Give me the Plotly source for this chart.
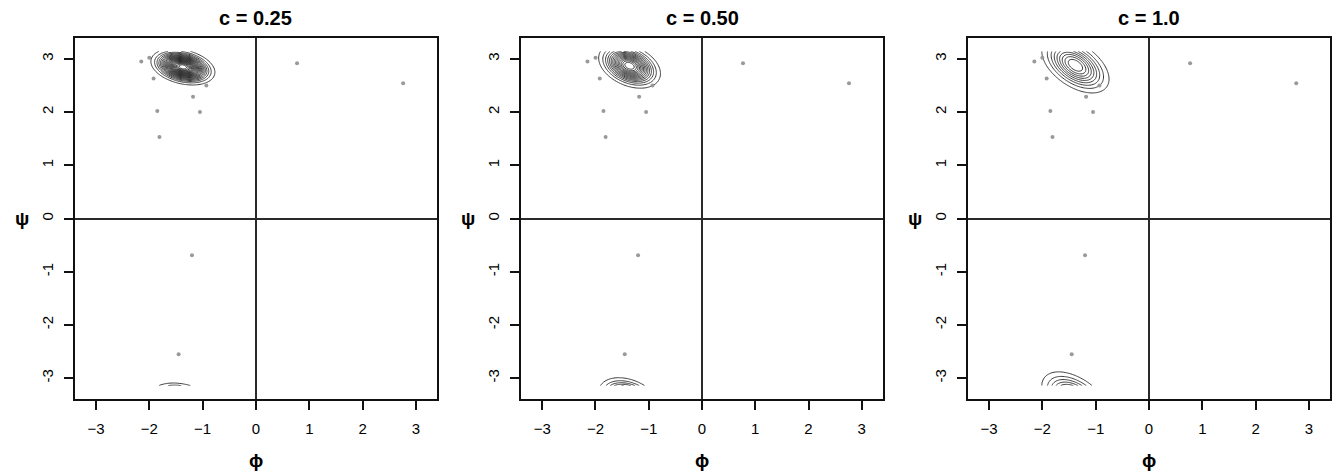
import numpy as np
import plotly.graph_objects as go

# ---------------- data ----------------
panel_titles = ["c = 0.25", "c = 0.50", "c = 1.0"]

# observed (phi, psi) points, grey dots (same in every panel)
pts_phi = [-2.15, -2.00, -1.92, -0.93, -1.18, -1.85, -1.05, -1.81, 0.77, 2.76, -1.20, -1.45]
pts_psi = [2.95, 3.02, 2.63, 2.50, 2.29, 2.02, 2.00, 1.53, 2.92, 2.54, -0.69, -2.55]

# density-estimate shape read per panel (centre, outer-contour half extents, tilt, level count)
dens_phi_centre = [-1.37, -1.36, -1.38]
dens_psi_centre = [2.85, 2.87, 2.88]
outer_half_phi = [0.60, 0.58, 0.63]
outer_half_psi = [0.34, 0.42, 0.52]
dens_corr = [-0.3, -0.35, -0.5]
n_levels = [24, 16, 10]

tick_vals = [-3, -2, -1, 0, 1, 2, 3]
x_tick_text = ["\u22123", "\u22122", "\u22121", "0", "1", "2", "3"]
y_tick_text = ["-3", "-2", "-1", "0", "1", "2", "3"]

# ---------------- figure ----------------
W, H = 1342, 476
ML, MR, MT, MB = 75, 10, 38, 77
PW, PH = W - ML - MR, H - MT - MB
panel_px = [(75, 437.5), (522, 884), (969.5, 1332)]
domains = [[(a - ML) / PW, (b - ML) / PW] for a, b in panel_px]
lim = np.pi * 1.08

grid = np.linspace(-np.pi, np.pi, 301)
GX, GY = np.meshgrid(grid, grid)

fig = go.Figure()
FONT = "Liberation Sans, Arial, Helvetica, sans-serif"
ann = []

for i in range(3):
    xa = "x" if i == 0 else f"x{i+1}"
    ya = "y" if i == 0 else f"y{i+1}"
    N = n_levels[i]
    r_out = np.sqrt(2 * np.log(N))
    sx = outer_half_phi[i] / r_out
    sy = outer_half_psi[i] / r_out
    rho = dens_corr[i]
    Z = np.zeros_like(GX)
    for kx in (-1, 0, 1):
        for ky in (-1, 0, 1):
            dx = (GX - dens_phi_centre[i] + 2 * np.pi * kx) / sx
            dy = (GY - dens_psi_centre[i] + 2 * np.pi * ky) / sy
            q = (dx * dx - 2 * rho * dx * dy + dy * dy) / (1 - rho * rho)
            Z += np.exp(-0.5 * q)
    zmax = 1.0
    step = zmax / N
    fig.add_trace(go.Contour(
        x=grid, y=grid, z=Z,
        contours=dict(coloring="lines", start=step, end=zmax - step * 0.5, size=step, showlabels=False),
        line=dict(width=0.9),
        colorscale=[[0, "#262626"], [1, "#262626"]],
        showscale=False, hoverinfo="skip",
        xaxis=xa, yaxis=ya,
    ))
    fig.add_trace(go.Scatter(
        x=pts_phi, y=pts_psi, mode="markers",
        marker=dict(size=4, color="#999999"),
        xaxis=xa, yaxis=ya, showlegend=False, hoverinfo="skip",
    ))

    axis_common = dict(
        range=[-lim, lim], showgrid=False, zeroline=True, zerolinecolor="#2a2a2a", zerolinewidth=1.7,
        showline=True, mirror=True, linecolor="#111", linewidth=1.8,
        ticks="outside", ticklen=9, tickwidth=1.6, tickcolor="#111",
        tickvals=tick_vals, tickfont=dict(family=FONT, size=15, color="#000"),
        fixedrange=True,
    )
    xkey = "xaxis" if i == 0 else f"xaxis{i+1}"
    ykey = "yaxis" if i == 0 else f"yaxis{i+1}"
    fig.update_layout({
        xkey: dict(axis_common, domain=domains[i], anchor=ya, ticktext=x_tick_text, ticklabelstandoff=6),
        ykey: dict(axis_common, domain=[0, 1], anchor=xa, ticktext=y_tick_text, tickangle=-90, ticklabelstandoff=5),
    })

    cx = (domains[i][0] + domains[i][1]) / 2
    ann.append(dict(text="<b>" + panel_titles[i] + "</b>", x=cx, y=1 + 19.5 / PH, xref="paper", yref="paper",
                    xanchor="center", yanchor="middle", showarrow=False,
                    font=dict(family=FONT, size=20, color="#000")))
    ann.append(dict(text="<b>\u03d5</b>", x=cx, y=-61 / PH, xref="paper", yref="paper",
                    xanchor="center", yanchor="middle", showarrow=False,
                    font=dict(family=FONT, size=19, color="#000")))
    ann.append(dict(text="<b>\u03c8</b>", x=domains[i][0] - 53 / PW, y=0.5, xref="paper", yref="paper",
                    xanchor="center", yanchor="middle", showarrow=False,
                    font=dict(family=FONT, size=19, color="#000")))

fig.update_layout(
    width=W, height=H,
    margin=dict(l=ML, r=MR, t=MT, b=MB),
    paper_bgcolor="white", plot_bgcolor="white",
    showlegend=False, annotations=ann,
)

fig.write_html("out.html")
